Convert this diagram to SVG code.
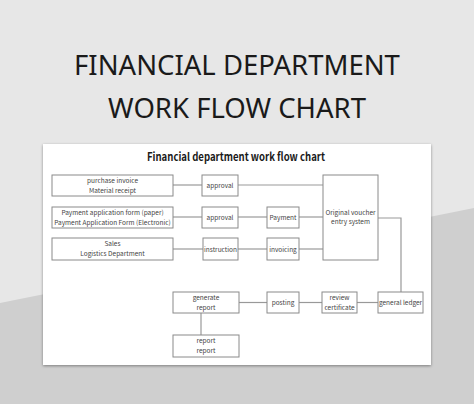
<svg xmlns="http://www.w3.org/2000/svg" width="474" height="404" viewBox="0 0 474 404">
<defs>
<style>
.box{fill:#fff;stroke:#8a8a8a;stroke-width:1}
.t{font-family:"Noto Sans CJK SC","Noto Sans",sans-serif;font-size:6.5px;fill:#444;text-anchor:middle}
.ln{stroke:#999;stroke-width:1.2;fill:none}
</style>
<filter id="sh" x="-5%" y="-5%" width="110%" height="110%">
<feGaussianBlur in="SourceAlpha" stdDeviation="1.5"/>
<feOffset dx="0" dy="1"/>
<feComponentTransfer><feFuncA type="linear" slope="0.4"/></feComponentTransfer>
<feMerge><feMergeNode/><feMergeNode in="SourceGraphic"/></feMerge>
</filter>
</defs>
<rect x="0" y="0" width="474" height="404" fill="#e7e7e7"/>
<polygon points="0,303 474,208 474,404 0,404" fill="#cfcfcf"/>
<text x="237" y="75" font-family="'Noto Sans',sans-serif" font-size="27.5" fill="#1a1a1a" text-anchor="middle">FINANCIAL DEPARTMENT</text>
<text x="237" y="118" font-family="'Noto Sans',sans-serif" font-size="27.5" fill="#1a1a1a" text-anchor="middle">WORK FLOW CHART</text>
<rect x="43" y="144" width="388" height="221" fill="#fff" filter="url(#sh)"/>
<text x="236" y="160.5" font-family="'Noto Sans CJK SC','Noto Sans',sans-serif" font-size="11" font-weight="bold" fill="#1a1a1a" text-anchor="middle" textLength="178" lengthAdjust="spacingAndGlyphs">Financial department work flow chart</text>
<g id="connectors">
<line class="ln" x1="173" y1="185" x2="202" y2="185"/>
<line class="ln" x1="238" y1="185" x2="323" y2="185"/>
<line class="ln" x1="173" y1="217" x2="202" y2="217"/>
<line class="ln" x1="238" y1="217" x2="267" y2="217"/>
<line class="ln" x1="299" y1="217" x2="323" y2="217"/>
<line class="ln" x1="173" y1="249" x2="203" y2="249"/>
<line class="ln" x1="238" y1="249" x2="267" y2="249"/>
<line class="ln" x1="299" y1="249" x2="323" y2="249"/>
<polyline class="ln" points="378,218 401,218 401,292"/>
<line class="ln" x1="239" y1="302.5" x2="267" y2="302.5"/>
<line class="ln" x1="299" y1="302.5" x2="322" y2="302.5"/>
<line class="ln" x1="357" y1="302.5" x2="378" y2="302.5"/>
<line class="ln" x1="201" y1="313" x2="201" y2="335"/>
</g>
<g id="n1"><rect class="box" x="52" y="175" width="121" height="21"/><text class="t" x="112.5" y="182.5">purchase invoice</text><text class="t" x="112.5" y="192.5">Material receipt</text></g>
<g id="n2"><rect class="box" x="52" y="207" width="121" height="21"/><text class="t" x="112.5" y="214.5">Payment application form (paper)</text><text class="t" x="112.5" y="224.5">Payment Application Form (Electronic)</text></g>
<g id="n3"><rect class="box" x="52" y="238" width="121" height="22"/><text class="t" x="112.5" y="245.5">Sales</text><text class="t" x="112.5" y="256">Logistics Department</text></g>
<g id="approval1"><rect class="box" x="202" y="175" width="36" height="21"/><text class="t" x="220" y="188">approval</text></g>
<g id="approval2"><rect class="box" x="202" y="207" width="36" height="21"/><text class="t" x="220" y="220">approval</text></g>
<g id="instruction"><rect class="box" x="203" y="238" width="35" height="22"/><text class="t" x="220.5" y="251.5">instruction</text></g>
<g id="payment"><rect class="box" x="267" y="207" width="32" height="21"/><text class="t" x="283" y="220">Payment</text></g>
<g id="invoicing"><rect class="box" x="267" y="238" width="32" height="22"/><text class="t" x="283" y="251.5">invoicing</text></g>
<g id="voucher"><rect class="box" x="323" y="175" width="55" height="85"/><text class="t" x="350.5" y="215">Original voucher</text><text class="t" x="350.5" y="224">entry system</text></g>
<g id="generate"><rect class="box" x="173" y="292" width="66" height="21"/><text class="t" x="206" y="299.5">generate</text><text class="t" x="206" y="309.5">report</text></g>
<g id="posting"><rect class="box" x="267" y="292" width="32" height="21"/><text class="t" x="283" y="305">posting</text></g>
<g id="review"><rect class="box" x="322" y="292" width="35" height="21"/><text class="t" x="339.5" y="299.5">review</text><text class="t" x="339.5" y="309.5">certificate</text></g>
<g id="ledger"><rect class="box" x="378" y="292" width="45" height="21"/><text class="t" x="400.5" y="305">general ledger</text></g>
<g id="report"><rect class="box" x="173" y="335" width="66" height="22"/><text class="t" x="206" y="342.5">report</text><text class="t" x="206" y="353">report</text></g>
</svg>
